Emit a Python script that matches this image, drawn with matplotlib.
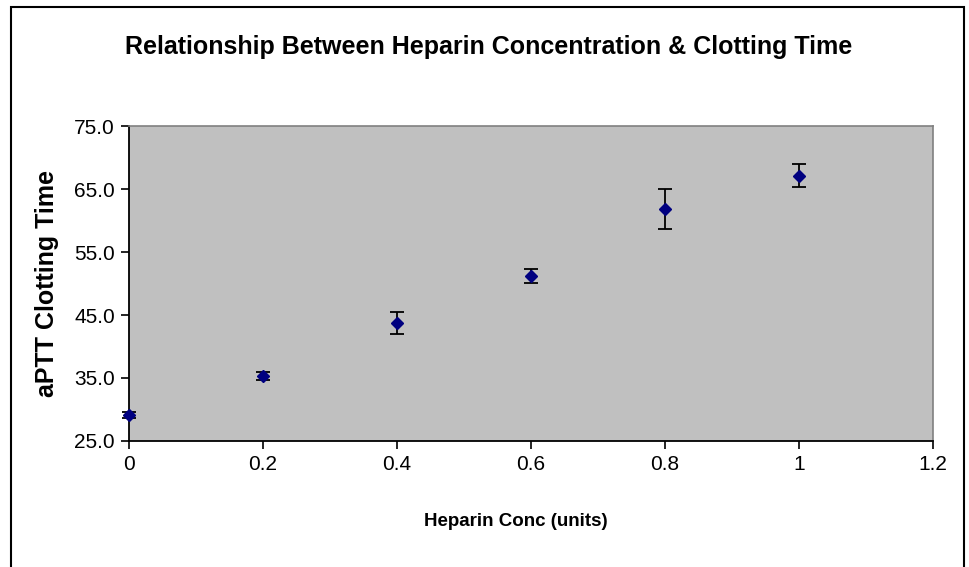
import matplotlib
matplotlib.use("Agg")
import matplotlib.pyplot as plt
from matplotlib.patches import Rectangle

# adatok
heparin_conc = [0.0, 0.2, 0.4, 0.6, 0.8, 1.0]
clotting_time = [29.1, 35.3, 43.7, 51.2, 61.9, 67.2]
hiba = [0.5, 0.6, 1.8, 1.1, 3.2, 1.9]

x_ticks = [0, 0.2, 0.4, 0.6, 0.8, 1, 1.2]
y_ticks = [25.0, 35.0, 45.0, 55.0, 65.0, 75.0]

plt.rcParams["font.family"] = ["Liberation Sans", "DejaVu Sans"]

fig = plt.figure(figsize=(9.69, 5.67), dpi=100)
ax = fig.add_axes([0.1331, 0.2228, 0.8297, 0.5541])
ax.set_facecolor("#C0C0C0")

ax.errorbar(heparin_conc, clotting_time, yerr=hiba, fmt="D", color="#000080",
            markersize=6, ecolor="black", elinewidth=1.3, capsize=5, capthick=1.3,
            clip_on=False, zorder=3)

ax.set_xlim(0, 1.2)
ax.set_ylim(25, 75)
ax.set_xticks(x_ticks)
ax.set_xticklabels([f"{v:g}" for v in x_ticks])
ax.set_yticks(y_ticks)
ax.set_yticklabels([f"{v:.1f}" for v in y_ticks])
ax.tick_params(direction="out", length=6, width=1.2, labelsize=15, pad=4)

for s in ["top", "right"]:
    ax.spines[s].set_color("#808080")
    ax.spines[s].set_linewidth(1.2)
for s in ["left", "bottom"]:
    ax.spines[s].set_color("black")
    ax.spines[s].set_linewidth(1.3)

fig.text(0.504, 0.917, "Relationship Between Heparin Concentration & Clotting Time",
         ha="center", va="center", fontsize=18, fontweight="bold")
fig.text(0.532, 0.0794, "Heparin Conc (units)", ha="center", va="center",
         fontsize=13.5, fontweight="bold")
fig.text(0.0485, 0.5, "aPTT Clotting Time", ha="center", va="center",
         rotation=90, fontsize=18, fontweight="bold")

# külső keret
fig.patches.append(Rectangle((11 / 969, -0.05), (964 - 11) / 969, 1.05 - 7 / 567,
                             transform=fig.transFigure, fill=False,
                             edgecolor="black", linewidth=1.5))

fig.savefig("out.png", dpi=100)
